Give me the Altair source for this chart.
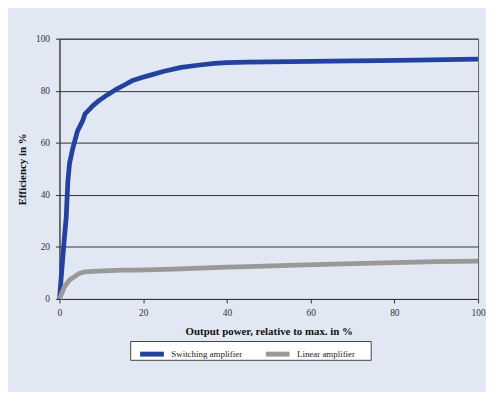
import altair as alt
import pandas as pd

# Switching amplifier efficiency curve
sw_x = [0, 0.6, 1.2, 1.6, 2.0, 2.4, 3.2, 4.3, 5.5, 6.1, 6.7, 8.0, 9.5, 11.5, 13.4, 15.5, 17.3, 19.5, 21.3, 25, 29.1, 33, 37, 40, 45, 50, 60, 70, 76.4, 85, 100]
sw_y = [0, 12, 24, 31, 45, 52, 58, 64.5, 68.3, 71.1, 72.1, 74.3, 76.3, 78.5, 80.4, 82.2, 83.8, 85.0, 85.8, 87.5, 89.0, 89.8, 90.5, 90.8, 91.0, 91.1, 91.3, 91.5, 91.6, 91.8, 92.1]

# Linear amplifier efficiency curve
li_x = [0, 1.2, 2.4, 3.5, 4.7, 5.9, 8, 10.6, 15, 18.5, 27.2, 40, 45, 56.7, 70, 80, 90, 100]
li_y = [0, 4.7, 7.3, 8.5, 9.8, 10.4, 10.6, 10.8, 11.1, 11.1, 11.5, 12.2, 12.4, 13.0, 13.6, 14.0, 14.3, 14.5]

series = ["Switching amplifier", "Linear amplifier"]
colors = ["#2342a0", "#999999"]
x_ticks = [0, 20, 40, 60, 80, 100]
y_ticks = [0, 20, 40, 60, 80, 100]

df = pd.concat([
    pd.DataFrame({"x": sw_x, "y": sw_y, "s": series[0], "o": range(len(sw_x))}),
    pd.DataFrame({"x": li_x, "y": li_y, "s": series[1], "o": range(len(li_x))}),
])

FONT = "Liberation Serif"

box = alt.Chart(pd.DataFrame({"a": [1]})).mark_rect(
    fill="white", stroke="#444444", strokeWidth=1
).encode(
    x=alt.value(72), x2=alt.value(315), y=alt.value(306), y2=alt.value(325)
)

lines = alt.Chart(df).mark_line(strokeWidth=4.8, strokeJoin="round", clip=False).encode(
    x=alt.X("x:Q", scale=alt.Scale(domain=[0, 100], nice=False),
            axis=alt.Axis(values=x_ticks, title="Output power, relative to max. in %",
                          grid=False, tickSize=4, labelPadding=5, titlePadding=8,
                          labelFlush=False)),
    y=alt.Y("y:Q", scale=alt.Scale(domain=[0, 100], nice=False),
            axis=alt.Axis(values=y_ticks, title="Efficiency in %",
                          grid=True, tickSize=4, labelPadding=6, titlePadding=8,
                          labelFlush=False)),
    color=alt.Color("s:N", scale=alt.Scale(domain=series, range=colors),
                    legend=alt.Legend(orient="none", legendX=79, legendY=304,
                                      direction="horizontal", title=None,
                                      symbolType="stroke", symbolSize=576,
                                      symbolStrokeWidth=5, labelFont=FONT,
                                      labelFontSize=9, labelColor="#222222",
                                      labelOffset=5, columnPadding=13)),
    order="o:Q",
)

chart = alt.layer(box, lines).properties(
    width=423, height=263,
    background="#e1e7f3",
    autosize=alt.AutoSizeParams(type="none"),
    padding={"left": 52, "top": 29, "right": 8, "bottom": 92},
).configure_view(
    stroke="#666666", strokeWidth=1
).configure_axis(
    labelFont=FONT, labelFontSize=9.5, labelColor="#333333",
    titleFont=FONT, titleFontSize=11, titleFontWeight="bold", titleColor="#111111",
    domainColor="#333333", tickColor="#333333", gridColor="#333333", gridWidth=1,
)

chart.save("out.html", embed_options={"renderer": "svg", "actions": False})
